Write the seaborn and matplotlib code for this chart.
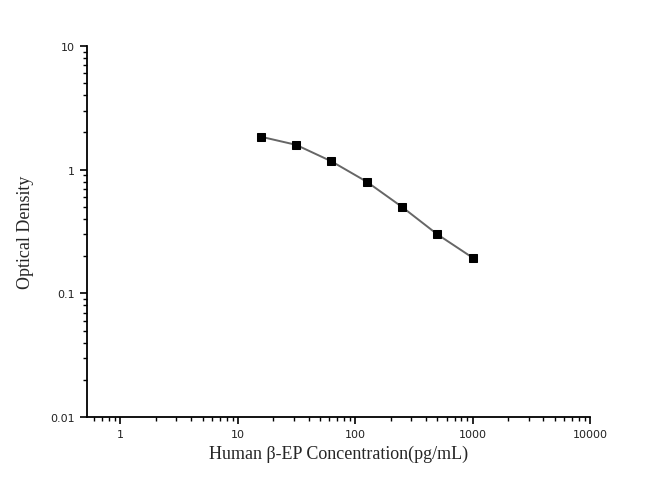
import numpy as np
import pandas as pd
import seaborn as sns
import matplotlib.pyplot as plt
from matplotlib.ticker import LogLocator, FixedLocator, FixedFormatter, NullFormatter

concentration = [15.625, 31.25, 62.5, 125, 250, 500, 1000]
optical_density = [1.85, 1.59, 1.17, 0.80, 0.50, 0.30, 0.194]
x_ticks = [1, 10, 100, 1000, 10000]
x_labels = ['1', '10', '100', '1000', '10000']
y_ticks = [0.01, 0.1, 1, 10]
y_labels = ['0.01', '0.1', '1', '10']

df = pd.DataFrame({'conc': concentration, 'od': optical_density})

sns.set_style('ticks')
fig = plt.figure(figsize=(6.5, 4.85), dpi=100)
ax = fig.add_axes([0.134, 0.138, 0.774, 0.765])

sns.lineplot(data=df, x='conc', y='od', ax=ax, color='#666666', linewidth=1.4,
             marker='s', markersize=5.3, markerfacecolor='black',
             markeredgecolor='black')

ax.set_xscale('log')
ax.set_yscale('log')
ax.set_xlim(0.52, 10000)
ax.set_ylim(0.01, 10)

ax.xaxis.set_major_locator(FixedLocator(x_ticks))
ax.xaxis.set_major_formatter(FixedFormatter(x_labels))
ax.yaxis.set_major_locator(FixedLocator(y_ticks))
ax.yaxis.set_major_formatter(FixedFormatter(y_labels))
ax.xaxis.set_minor_locator(LogLocator(base=10, subs=np.arange(2, 10), numticks=20))
ax.yaxis.set_minor_locator(LogLocator(base=10, subs=np.arange(2, 10), numticks=20))
ax.xaxis.set_minor_formatter(NullFormatter())
ax.yaxis.set_minor_formatter(NullFormatter())

for side in ['top', 'right']:
    ax.spines[side].set_visible(False)
for side in ['left', 'bottom']:
    ax.spines[side].set_linewidth(1.3)
    ax.spines[side].set_color('black')

ax.tick_params(which='major', direction='out', length=5, width=1.2, labelsize=8,
               color='black', labelcolor='#222222')
ax.tick_params(which='minor', direction='out', length=3, width=1.0, color='black')

ax.set_xlabel('Human β-EP Concentration(pg/mL)', family='Liberation Serif',
              fontsize=13, labelpad=4)
ax.set_ylabel('Optical Density', family='Liberation Serif', fontsize=13, labelpad=12)

fig.savefig('out.png', dpi=100)
